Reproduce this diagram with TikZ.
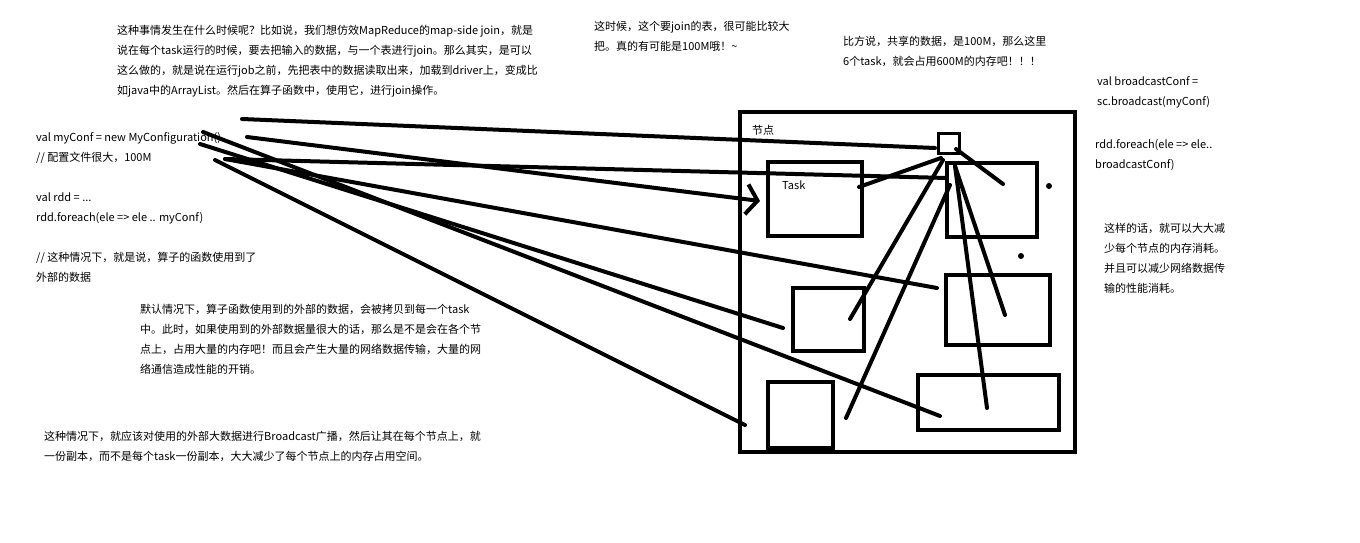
\documentclass[tikz,border=0pt]{standalone}
\usepackage{fontspec}
\setmainfont{Noto Sans CJK SC}
\usepackage{tikz}
\usetikzlibrary{arrows.meta,calc,positioning}
\tikzset{%
        line cap = round,
        node distance = 1cm
}
\tikzstyle{every edge}=[
    draw = black,
    line width = 4pt,
    line cap = round
]
\tikzstyle{note}=[
    anchor = north west,
    align = left,
    inner sep = 0pt,
    font = \fontsize{11}{20}\selectfont
]
\tikzstyle{block}=[
    draw = black,
    line width = 4pt,
    anchor = north west,
    inner sep = 0pt,
    outer sep = 0pt
]

\begin{document}
\begin{tikzpicture}[x=1pt, y=-1pt]
        \useasboundingbox (0,0) rectangle (1360,543);
        % texts
        \node[note] (why) at (117,25) {这种事情发生在什么时候呢？比如说，我们想仿效MapReduce的map-side join，就是\\说在每个task运行的时候，要去把输入的数据，与一个表进行join。那么其实，是可以\\这么做的，就是说在运行job之前，先把表中的数据读取出来，加载到driver上，变成比\\如java中的ArrayList。然后在算子函数中，使用它，进行join操作。};
        \node[note] (big) at (594,21) {这时候，这个要join的表，很可能比较大\\把。真的有可能是100M哦！\textasciitilde};
        \node[note] (six) at (843,36) {比方说，共享的数据，是100M，那么这里\\6个task，就会占用600M的内存吧！！！};
        \node[note] (bcconf) at (1097,76) {val broadcastConf =\\sc.broadcast(myConf)};
        \node[note] (bcuse) at (1095,139) {rdd.foreach(ele => ele..\\broadcastConf)};
        \node[note] (code) at (36,132) {val myConf = new MyConfiguration()\\// 配置文件很大，100M\\[20pt]val rdd = ...\\rdd.foreach(ele => ele .. myConf)\\[20pt]// 这种情况下，就是说，算子的函数使用到了\\外部的数据};
        \node[note] (copy) at (140,304) {默认情况下，算子函数使用到的外部的数据，会被拷贝到每一个task\\中。此时，如果使用到的外部数据量很大的话，那么是不是会在各个节\\点上，占用大量的内存吧！而且会产生大量的网络数据传输，大量的网\\络通信造成性能的开销。};
        \node[note] (fix) at (44,431) {这种情况下，就应该对使用的外部大数据进行Broadcast广播，然后让其在每个节点上，就\\一份副本，而不是每个task一份副本，大大减少了每个节点上的内存占用空间。};
        \node[note] (gain) at (1104,223) {这样的话，就可以大大减\\少每个节点的内存消耗。\\并且可以减少网络数据传\\输的性能消耗。};

        % node and tasks
        \node[block, minimum width=335pt, minimum height=340pt] (node) at (740,112) {};
        \node[note] (nodelbl) at (752,125) {节点};
        \node[block, line width=3pt, minimum width=21pt, minimum height=20pt] (bc) at (938,133) {};
        \node[block, minimum width=94pt, minimum height=74pt] (task1) at (768,162) {};
        \node[note] (tasklbl) at (782,181) {Task};
        \node[block, minimum width=90pt, minimum height=74pt] (task2) at (947,163) {};
        \node[block, minimum width=71pt, minimum height=63pt] (task3) at (793,288) {};
        \node[block, minimum width=104pt, minimum height=70pt] (task4) at (946,275) {};
        \node[block, minimum width=65pt, minimum height=66pt] (task5) at (768,382) {};
        \node[block, minimum width=141pt, minimum height=55pt] (task6) at (918,375) {};

        % line ends
        \coordinate (c1) at (242,119);
        \coordinate (c2) at (247,137);
        \coordinate (c3) at (225,159);
        \coordinate (c4) at (203,132);
        \coordinate (c5) at (200,144);
        \coordinate (c6) at (215,160);
        \coordinate (h0) at (935,148);
        \coordinate (h1) at (760,201);
        \coordinate (h2) at (947,178);
        \coordinate (h3) at (783,328);
        \coordinate (h4) at (937,288);
        \coordinate (h5) at (745,425);
        \coordinate (h6) at (940,416);
        \coordinate (b0) at (941,158);
        \coordinate (b1) at (943,160);
        \coordinate (b2) at (950,185);
        \coordinate (b3) at (955,166);
        \coordinate (b4) at (956,149);
        \coordinate (t1) at (859,187);
        \coordinate (t2) at (1003,184);
        \coordinate (t3) at (850,319);
        \coordinate (t4) at (1005,315);
        \coordinate (t5) at (846,418);
        \coordinate (t6) at (987,408);

      \path
      (c1) edge (h0)
      (c2) edge[-{Straight Barb[length=11pt,width=30pt]}] (h1)
      (c3) edge (h2)
           edge (h4)
      (c4) edge (h6)
      (c5) edge (h3)
      (c6) edge (h5)
      (b0) edge (t1)
      (b1) edge (t3)
      (b2) edge (t5)
      (b3) edge (t6)
           edge (t4)
      (b4) edge (t2)
      ;
      \fill (1049,186) circle (3pt);
      \fill (1021,256) circle (3pt);
    \end{tikzpicture}
\end{document}
